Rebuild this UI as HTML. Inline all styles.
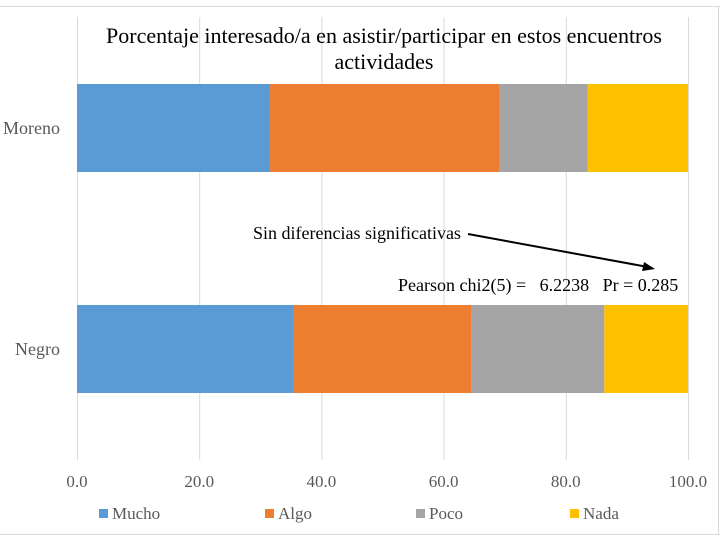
<!DOCTYPE html>
<html><head><meta charset="utf-8"><style>
body{margin:0;background:#fff;}
svg{display:block;font-family:"Liberation Serif",serif;}
</style></head><body>
<svg id="c" width="720" height="540">
<line x1="0" y1="6.5" x2="720" y2="6.5" stroke="#d9d9d9"/>
<line x1="0" y1="534.5" x2="720" y2="534.5" stroke="#d9d9d9"/>
<line x1="718.5" y1="6" x2="718.5" y2="535" stroke="#d9d9d9"/>
<g id="grid"></g>
<g id="bars"></g>
<g id="labels"></g>
<text x="384" y="43" text-anchor="middle" font-size="22" fill="#000">Porcentaje interesado/a en asistir/participar en estos encuentros</text>
<text x="384" y="69" text-anchor="middle" font-size="22" fill="#000">actividades</text>
<text x="253" y="239" font-size="18" fill="#000">Sin diferencias significativas</text>
<line x1="468" y1="234" x2="648" y2="267" stroke="#000" stroke-width="2"/>
<polygon points="655,269 644,262 642,271" fill="#000"/>
<text x="398" y="291" font-size="18" fill="#000">Pearson chi2(5) =&#160;&#160; 6.2238&#160;&#160; Pr = 0.285</text>
<g id="legend"></g>
</svg>
<script>
const categories=["Moreno","Negro"];
const series=["Mucho","Algo","Poco","Nada"];
const colors=["#5b9bd5","#ed7d31","#a5a5a5","#ffc000"];
const mucho=[31.6,35.5];
const algo=[37.6,29.1];
const poco=[14.4,21.7];
const nada=[16.4,13.7];
const ticks=[0,20,40,60,80,100];
const tickLabels=["0.0","20.0","40.0","60.0","80.0","100.0"];
const NS="http://www.w3.org/2000/svg";
const x=v=>77+v*6.11;
const bandTop=[84,305], bandH=88;
function mk(t,a,p){const e=document.createElementNS(NS,t);for(const k in a)e.setAttribute(k,a[k]);p.appendChild(e);return e;}
const grid=document.getElementById('grid');
ticks.forEach((t,i)=>{
 const l=mk('line',{x1:x(t)+0.5,x2:x(t)+0.5,y1:17,y2:460,stroke:'#d9d9d9'},grid);
 
 
 const tx=mk('text',{x:x(t),y:487,'text-anchor':'middle','font-size':17,fill:'#595959'},grid);
 tx.textContent=tickLabels[i];
 
 
});
const bars=document.getElementById('bars');
const vals=[mucho,algo,poco,nada];
categories.forEach((c,ci)=>{
 let acc=0;
 vals.forEach((s,si)=>{
  const r=mk('rect',{x:x(acc),y:bandTop[ci],width:x(acc+s[ci])-x(acc),height:bandH,fill:colors[si]},bars);
  
  
  acc+=s[ci];
 });
 const t=mk('text',{x:60,y:bandTop[ci]+bandH/2+6,'text-anchor':'end','font-size':18,fill:'#595959'},document.getElementById('labels'));
 t.textContent=c;
 
 
});
const lg=document.getElementById('legend');
const lx=[99,265,416,570];
series.forEach((s,i)=>{
 const g=mk('g',{},lg);
 
 
 mk('rect',{x:lx[i],y:509,width:9,height:9,fill:colors[i]},g);
 const t=mk('text',{x:lx[i]+13,y:519,'font-size':17,fill:'#595959'},g);
 t.textContent=s;
});
</script>
</body></html>
